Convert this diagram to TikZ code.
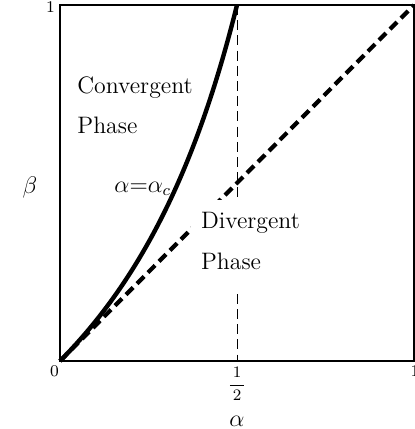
\documentclass[tikz,border=0pt]{standalone}
\begin{document}
\begin{tikzpicture}[x=0.5pt,y=-0.5pt,
  lab/.style={font=\fontsize{11.9}{20.5}\selectfont, inner sep=0pt},
  tick/.style={font=\fontsize{8.2}{9.5}\selectfont, inner sep=0pt},
  divbox/.style={lab, fill=white, anchor=base west, inner xsep=4.85pt, inner ysep=6pt, text height=8pt, text depth=6.5pt},
  thickdash/.style={line width=2.1pt, dash pattern=on 5pt off 2.8pt},
  critcurve/.style={line width=2.2pt},
  guide/.style={line width=0.5pt, dash pattern=on 5pt off 2.6pt},
  frame/.style={line width=0.6pt}]
\useasboundingbox (0,0) rectangle (415,429);
\coordinate (O) at (60,361);
\coordinate (TL) at (60,5);
\coordinate (TR) at (414,5);
\coordinate (BR) at (414,361);
\coordinate (Htop) at (237,5);
\coordinate (Hbot) at (237,361);
\draw[guide] (Htop) -- (Hbot);
\draw[thickdash] (O) -- (TR);
\draw[critcurve] plot[domain=0:1, samples=80, smooth] ({60+354*\x/(1+\x)}, {361-356*\x});
\draw[frame] (TL) rectangle (BR);
% tick labels
\node[tick, anchor=base] (y1) at (50.5,12) {1};
\node[tick, anchor=base] (x0) at (54.5,376) {0};
\node[tick, anchor=base] (x1) at (415,376) {1};
\node[tick, anchor=base] (xhalf) at (237,389) {$\displaystyle\frac{\,1\,}{\,2\,}$};
\node[lab, anchor=base] (xlab) at (237,426) {$\alpha$};
\node[lab] (ylab) at (30,187) {$\beta$};
% region labels
\node[lab, anchor=base west] (conv) at (77,93) {Convergent};
\node[lab, anchor=base west] (convp) at (77,133) {Phase};
\node[lab, anchor=base west] (crit) at (114,192) {$\alpha{=}\alpha_c$};
\node[divbox] (div) at (191,228) {Divergent};
\node[divbox] (divp) at (191,269) {Phase};
\end{tikzpicture}
\end{document}
